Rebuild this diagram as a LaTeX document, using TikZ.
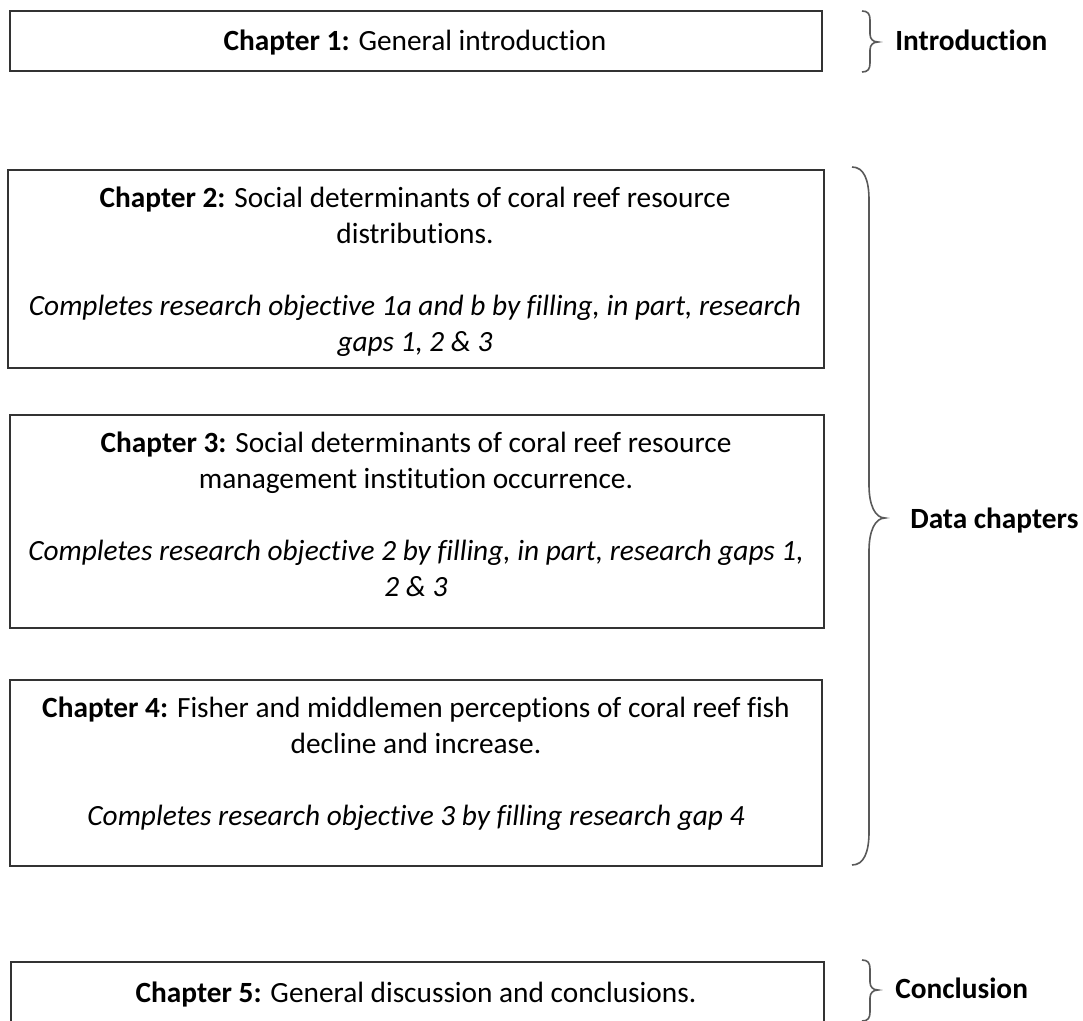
\documentclass[tikz,border=0pt]{standalone}
\usepackage{fontspec}
\setmainfont[Ligatures=NoCommon]{Carlito}
\begin{document}
\begin{tikzpicture}[x=0.75pt,y=-0.75pt,
  chapbox/.style={draw=black!80,line width=1pt},
  chaptext/.style={anchor=base,align=center,inner sep=0pt,font=\fontsize{22}{27}\selectfont},
  partlabel/.style={anchor=west,inner sep=0pt,font=\fontsize{22}{27}\selectfont\bfseries},
  bracepath/.style={draw=black!65,line width=1.2pt}]
\useasboundingbox (0,0) rectangle (1083,1021);
\clip (0,0) rectangle (1083,1021);

% chapter boxes
\draw[chapbox] (10,11) rectangle (822,71);
\draw[chapbox] (8,170) rectangle (824,368);
\draw[chapbox] (10,415) rectangle (824,628);
\draw[chapbox] (10,680) rectangle (822,866);
\draw[chapbox] (11,962) rectangle (824,1060);

% box contents (each node sits on the baseline of its last line)
\node[chaptext] (t1) at (415,50) {\textbf{Chapter 1:} General introduction};
\node[chaptext] (t2) at (415,351) {\textbf{Chapter 2:} Social determinants of coral reef resource\\
  distributions.\\[27pt]
  \textit{Completes research objective 1a and b by filling, in part, research}\\
  \textit{gaps 1, 2 \& 3}};
\node[chaptext] (t3) at (416,596) {\textbf{Chapter 3:} Social determinants of coral reef resource\\
  management institution occurrence.\\[27pt]
  \textit{Completes research objective 2 by filling, in part, research gaps 1,}\\
  \textit{2 \& 3}};
\node[chaptext] (t4) at (416,825) {\textbf{Chapter 4:} Fisher and middlemen perceptions of coral reef fish\\
  decline and increase.\\[27pt]
  \textit{Completes research objective 3 by filling research gap 4}};
\node[chaptext] (t5) at (416,1002) {\textbf{Chapter 5:} General discussion and conclusions.};

% braces
\draw[bracepath] (862,11) .. controls (868,11) and (870,14) .. (870,20) -- (870,34)
  .. controls (870,39) and (873,42) .. (878,42)
  .. controls (873,42) and (870,45) .. (870,50) -- (870,63)
  .. controls (870,69) and (868,72) .. (862,72);
\draw[bracepath] (852,167) .. controls (864,167) and (869,180) .. (869,200) -- (869,485)
  .. controls (869,505) and (875,518) .. (885,518)
  .. controls (875,518) and (869,531) .. (869,551) -- (869,832)
  .. controls (869,852) and (864,865) .. (852,865);
\draw[bracepath] (862,960) .. controls (868,960) and (870,963) .. (870,969) -- (870,982)
  .. controls (870,987) and (873,990) .. (878,990)
  .. controls (873,990) and (870,993) .. (870,998) -- (870,1012)
  .. controls (870,1018) and (868,1021) .. (862,1021);

% part labels
\node[partlabel] (l1) at (895,40) {Introduction};
\node[partlabel] (l2) at (910,521) {Data chapters};
\node[partlabel] (l3) at (895,988) {Conclusion};
\end{tikzpicture}
\end{document}
